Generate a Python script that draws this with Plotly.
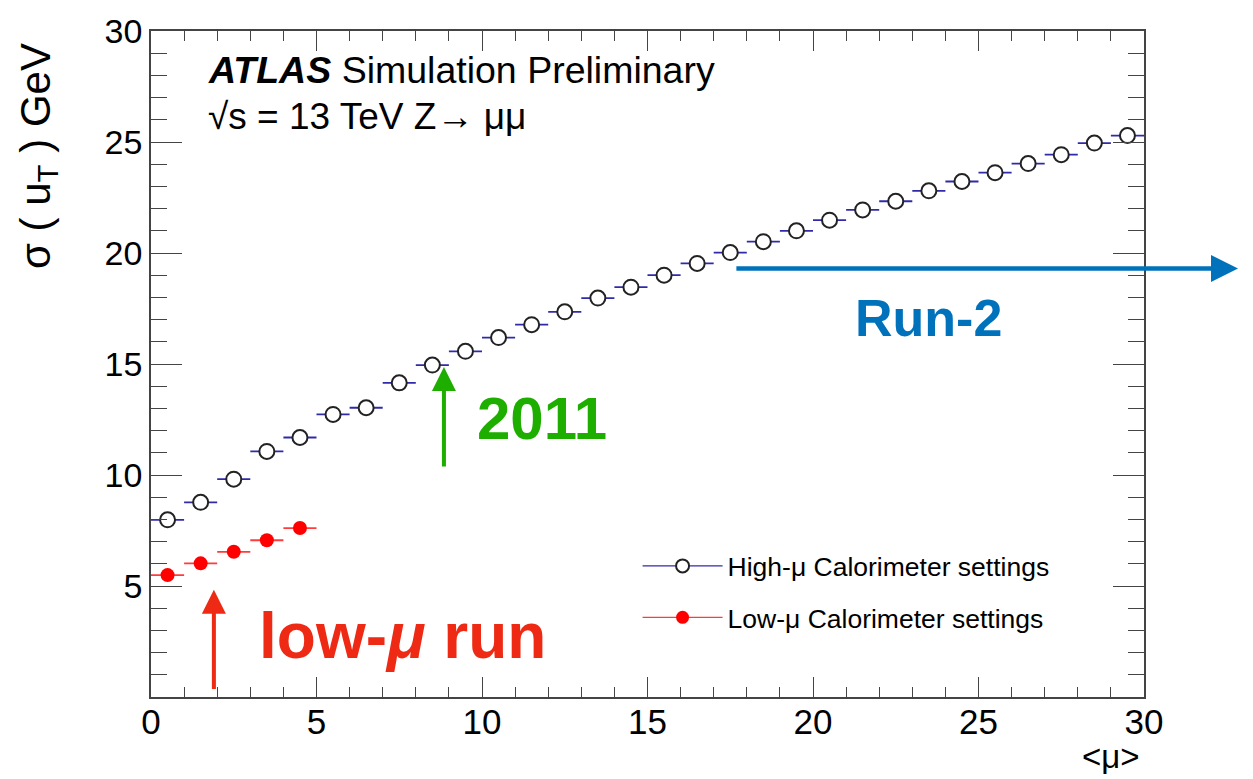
import plotly.graph_objects as go

# <mu> bin centres and half-widths
mu_centres = [0.5, 1.5, 2.5, 3.5, 4.5, 5.5, 6.5, 7.5, 8.5, 9.5,
              10.5, 11.5, 12.5, 13.5, 14.5, 15.5, 16.5, 17.5, 18.5, 19.5,
              20.5, 21.5, 22.5, 23.5, 24.5, 25.5, 26.5, 27.5, 28.5, 29.5]
bin_half_width = 0.5

# sigma(u_T) [GeV] for the two calorimeter configurations
high_mu_sigma = [7.98, 8.77, 9.81, 11.06, 11.69, 12.73, 13.03, 14.15, 14.95, 15.57,
                 16.19, 16.77, 17.35, 17.97, 18.46, 19.00, 19.53, 20.02, 20.51, 21.00,
                 21.48, 21.94, 22.33, 22.80, 23.22, 23.62, 24.03, 24.43, 24.95, 25.29]
low_mu_centres = [0.5, 1.5, 2.5, 3.5, 4.5]
low_mu_sigma = [5.49, 6.02, 6.54, 7.06, 7.61]

x_ticks = [0, 5, 10, 15, 20, 25, 30]
y_ticks = [0, 5, 10, 15, 20, 25, 30]
y_ticktext = ["", "5", "10", "15", "20", "25", "30"]

legend_names = ["High-μ Calorimeter settings", "Low-μ Calorimeter settings"]

FONT = "Liberation Sans, Arial, Helvetica, sans-serif"
HIGH_LINE = "#2f2ba8"
LOW_LINE = "#ff3b3b"
AXIS_COL = "#444444"

fig = go.Figure()

# data points with horizontal bin-width bars
fig.add_trace(go.Scatter(
    x=mu_centres, y=high_mu_sigma, mode="markers", showlegend=False,
    error_x=dict(type="constant", value=bin_half_width, width=0,
                 thickness=1.8, color=HIGH_LINE),
    marker=dict(symbol="circle", size=15, color="white",
                line=dict(color="#222222", width=2)),
    cliponaxis=False,
))
fig.add_trace(go.Scatter(
    x=low_mu_centres, y=low_mu_sigma, mode="markers", showlegend=False,
    error_x=dict(type="constant", value=bin_half_width, width=0,
                 thickness=1.8, color=LOW_LINE),
    marker=dict(symbol="circle", size=14, color="#ff0000",
                line=dict(color="#ff0000", width=0)),
    cliponaxis=False,
))

# legend entries
fig.add_trace(go.Scatter(
    x=[None], y=[None], mode="lines+markers", name=legend_names[0],
    legendgroup="a",
    line=dict(color=HIGH_LINE, width=1.3),
    marker=dict(symbol="circle", size=13, color="white",
                line=dict(color="#222222", width=2)),
))
fig.add_trace(go.Scatter(
    x=[None], y=[None], mode="lines+markers", name=legend_names[1],
    legendgroup="b",
    line=dict(color=LOW_LINE, width=1.3),
    marker=dict(symbol="circle", size=13, color="#ff0000"),
))

axis_common = dict(
    showline=True, linecolor=AXIS_COL, linewidth=1.5, mirror="allticks",
    ticks="inside", tickcolor=AXIS_COL, tickwidth=1.2,
    showgrid=False, zeroline=False,
)

fig.update_xaxes(
    range=[0, 30], tickmode="array", tickvals=x_ticks, ticklen=20,
    ticklabelstandoff=-7,
    tickfont=dict(family=FONT, size=35, color="black"),
    minor=dict(tickmode="linear", tick0=0, dtick=1, ticks="inside",
               ticklen=10, tickcolor=AXIS_COL, tickwidth=1.2),
    **axis_common,
)
fig.update_yaxes(
    range=[0, 30], tickmode="array", tickvals=y_ticks, ticktext=y_ticktext,
    ticklen=31,
    tickfont=dict(family=FONT, size=34, color="black"),
    minor=dict(tickmode="linear", tick0=0, dtick=1, ticks="inside",
               ticklen=16, tickcolor=AXIS_COL, tickwidth=1.2),
    **axis_common,
)

annotations = [
    # axis titles
    dict(text="σ ( u<sub>T</sub> ) GeV", xref="paper", yref="paper",
         x=-0.114, y=0.812, xanchor="center", yanchor="middle", textangle=-90,
         showarrow=False, font=dict(family=FONT, size=42, color="black")),
    dict(text="&lt;μ&gt;", xref="paper", yref="paper", x=0.998, y=-0.12,
         xanchor="right", yanchor="bottom", showarrow=False,
         font=dict(family=FONT, size=33, color="black")),
    # experiment label
    dict(text="<b><i>ATLAS</i></b> Simulation Preliminary", xref="paper", yref="paper",
         x=0.055, y=0.941, xanchor="left", yanchor="middle", showarrow=False,
         font=dict(family=FONT, size=37.5, color="black")),
    dict(text="√s = 13 TeV Z→ μμ", xref="paper", yref="paper",
         x=0.055, y=0.871, xanchor="left", yanchor="middle", showarrow=False,
         font=dict(family=FONT, size=37, color="black")),
    # period markers
    dict(text="", x=1.9, y=4.83, ax=1.9, ay=0.29, xref="x", yref="y",
         axref="x", ayref="y", showarrow=True, arrowhead=2, arrowsize=1.2,
         arrowwidth=4, arrowcolor="#ee2a14", standoff=0),
    dict(text="<b>low-<i>μ</i> run</b>", x=3.2, y=2.75, xref="x", yref="y",
         xanchor="left", yanchor="middle", showarrow=False,
         font=dict(family=FONT, size=64, color="#ee2a14")),
    dict(text="", x=8.85, y=14.86, ax=8.85, ay=10.31, xref="x", yref="y",
         axref="x", ayref="y", showarrow=True, arrowhead=2, arrowsize=1.2,
         arrowwidth=4, arrowcolor="#1eae00", standoff=0),
    dict(text="<b>2011</b>", x=9.8, y=12.55, xref="x", yref="y",
         xanchor="left", yanchor="middle", showarrow=False,
         font=dict(family=FONT, size=60, color="#1eae00")),
    dict(text="", x=32.84, y=19.3, ax=17.64, ay=19.3, xref="x", yref="y",
         axref="x", ayref="y", showarrow=True, arrowhead=2, arrowsize=1.2,
         arrowwidth=4.5, arrowcolor="#0072bb", standoff=0),
    dict(text="<b>Run-2</b>", x=21.2, y=17.07, xref="x", yref="y",
         xanchor="left", yanchor="middle", showarrow=False,
         font=dict(family=FONT, size=52, color="#0072bb")),
]

fig.update_layout(
    width=1253, height=779,
    margin=dict(l=151, r=109, t=25, b=82),
    paper_bgcolor="white", plot_bgcolor="white",
    font=dict(family=FONT, color="black"),
    annotations=annotations,
    legend=dict(x=0.49, y=0.2325, xanchor="left", yanchor="top",
                bgcolor="rgba(0,0,0,0)", itemwidth=80, tracegroupgap=14,
                font=dict(family=FONT, size=26.5, color="black")),
)

fig.write_html("out.html")
